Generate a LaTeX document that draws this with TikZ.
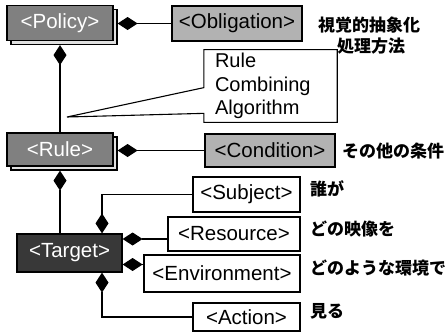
\documentclass[tikz,border=0pt]{standalone}
\usepackage{fontspec}
\setmainfont{Liberation Sans}
\newfontfamily\jpfont{Noto Sans CJK JP}
\usetikzlibrary{arrows.meta}
\definecolor{stackgray}{gray}{0.50}
\definecolor{partgray}{gray}{0.70}
\definecolor{targetgray}{gray}{0.22}
\begin{document}
\begin{tikzpicture}[x=1pt, y=-1pt,
    elem/.style={rectangle, draw=black, line width=1.2pt, inner sep=0pt, font=\fontsize{20.5}{24}\selectfont},
    stackbox/.style={elem, fill=stackgray, text=white},
    backbox/.style={elem, fill=black!12},
    partbox/.style={elem, fill=partgray, text=black},
    leafbox/.style={elem, fill=white},
    targetbox/.style={elem, fill=targetgray, text=white},
    note/.style={anchor=west, inner sep=0pt, font=\jpfont\bfseries\fontsize{17}{20}\selectfont},
    comp/.style={{Diamond[length=20pt,width=13pt]}-, line width=1.2pt},
]
\useasboundingbox (0,0) rectangle (447,332);
% Policy with Obligation
\node[backbox, minimum width=106pt, minimum height=35pt] (polb) at (64,27) {};
\node[stackbox, minimum width=106pt, minimum height=35pt] (pol) at (60,23) {<Policy>};
\node[partbox, minimum width=130pt, minimum height=35pt] (obl) at (237,23.5) {<Obligation>};
\node[note] (n1) at (318,25) {視覚的抽象化};
\node[note] (n2) at (337,46) {処理方法};
\draw[comp] (obl.west -| polb.east) -- (obl.west);
% Rule
\node[backbox, minimum width=106pt, minimum height=33pt] (ruleb) at (64,153.5) {};
\node[stackbox, minimum width=106pt, minimum height=33pt] (rule) at (60,149.5) {<Rule>};
\node[partbox, minimum width=130pt, minimum height=33pt] (cond) at (270,150.5) {<Condition>};
\node[note] (n3) at (342,151) {その他の条件};
\draw[comp] (pol.south |- polb.south) -- (rule.north);
\draw[comp] (cond.west -| ruleb.east) -- (cond.west);
% rule combining algorithm callout
\node[minimum width=133pt, minimum height=72pt, inner xsep=11pt, text width=111pt, align=left,
      font=\fontsize{20}{23.5}\selectfont] (rca) at (270.5,86) {Rule\\Combining\\Algorithm};
\coordinate (tip) at (67,117);
\draw[line width=1.1pt] (rca.north west) -- (rca.north east) -- (rca.south east) -- (rca.south west)
    -- ([yshift=9pt]rca.south west) -- (tip) -- ([yshift=-38pt]rca.north west) -- cycle;
% Target
\node[targetbox, minimum width=105pt, minimum height=38pt] (target) at (69.5,253) {<Target>};
\draw[comp] (rule.south |- ruleb.south) -- (rule.south |- target.north);
\node[leafbox, minimum width=107pt, minimum height=35pt] (subj) at (246.5,194.5) {<Subject>};
\node[leafbox, minimum width=132pt, minimum height=34pt] (res) at (234,234) {<Resource>};
\node[leafbox, minimum width=156pt, minimum height=37pt] (env) at (222,273.5) {<Environment>};
\node[leafbox, minimum width=107pt, minimum height=28pt] (act) at (246.5,317) {<Action>};
\node[note] (n4) at (310,189) {誰が};
\node[note] (n5) at (310,229) {どの映像を};
\node[note] (n6) at (310,268) {どのような環境で};
\node[note] (n7) at (310,311) {見る};
\draw[comp] ([xshift=32.5pt]target.north) |- (subj.west);
\draw[comp] ([yshift=-5pt]res.west -| target.east) -- ([yshift=-5pt]res.west);
\draw[comp] ([yshift=9pt]env.west -| target.east) -- ([yshift=9pt]env.west);
\draw[comp] ([xshift=32.5pt]target.south) |- (act.west);
\end{tikzpicture}
\end{document}
